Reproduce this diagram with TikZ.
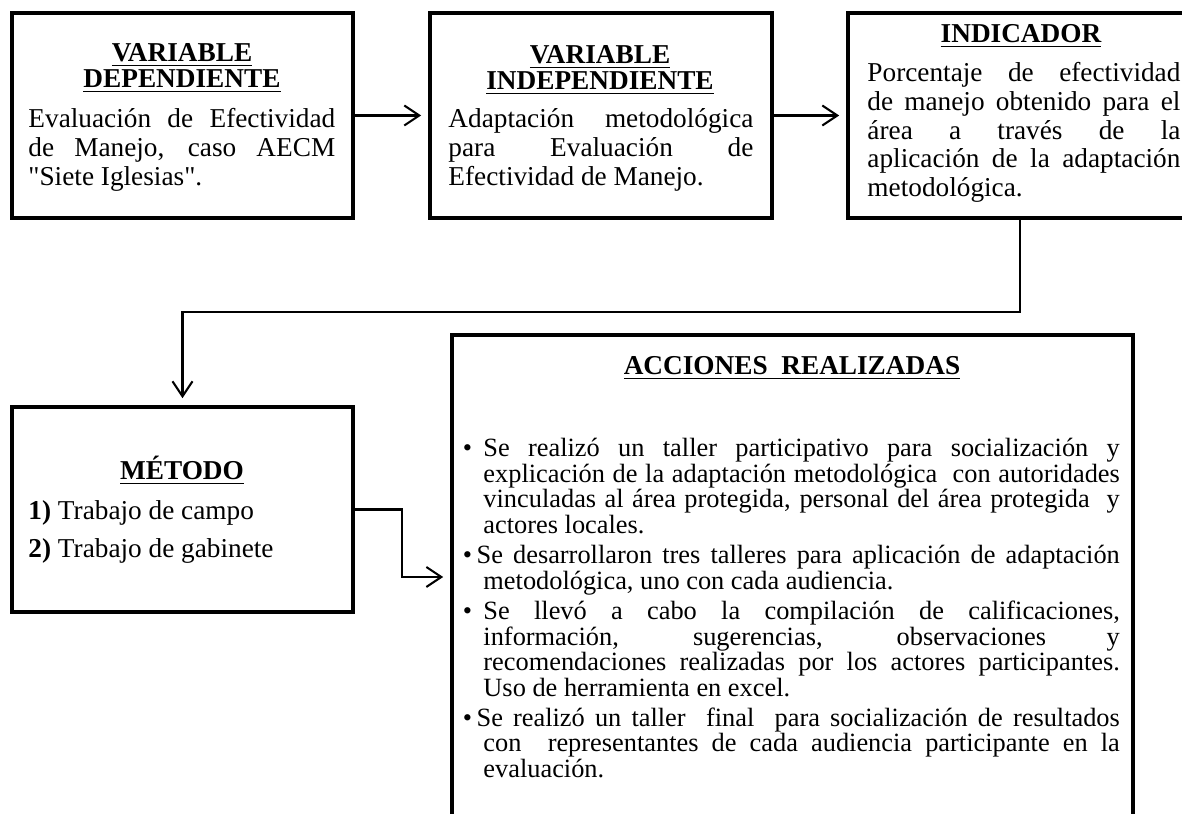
\documentclass[tikz,border=0pt]{standalone}
\usepackage{fontspec}
\setmainfont{Liberation Serif}[Ligatures=TeXOff]
\usetikzlibrary{positioning}
\usetikzlibrary{arrows.meta}
\tikzset{
    caja/.style = {rectangle, draw=black, line width=1.8pt, inner sep=0pt},
    titulo/.style = {align=center, inner sep=0pt, font=\fontsize{12}{11.5}\selectfont\bfseries},
    cuerpo/.style = {align=justify, inner sep=0pt, font=\fontsize{12}{12.6}\selectfont},
    lista/.style = {align=justify, inner sep=0pt, text width=280pt, font=\fontsize{11.6}{11.2}\selectfont},
    flecha/.style = {-{Straight Barb[length=6.6pt,width=8.8pt]}, line width=0.9pt, shorten >=3pt},
}
% vinetas de la lista
\newcommand{\vineta}{\leavevmode\llap{\textbullet\hspace{5pt}}}
\newcommand{\vinetab}{\leavevmode\hspace*{-3pt}\llap{\textbullet\hspace{2pt}}}

\begin{document}
\begin{tikzpicture}[x=0.44pt, y=-0.44pt]
  \useasboundingbox (0,0) rectangle (1182,814);
  % cajas
  \node[caja, minimum width=150pt, minimum height=90.2pt] (dep) at (182.5,115.5) {};
  \node[caja, minimum width=150.5pt, minimum height=90.2pt] (indep) at (601,115.5) {};
  \node[caja, minimum width=148.7pt, minimum height=90.2pt] (ind) at (1017,115.5) {};
  \node[caja, minimum width=150pt, minimum height=90.2pt] (met) at (182.5,509.5) {};
  \node[caja, minimum width=299.6pt, minimum height=222.2pt] (acc) at (792.5,587.5) {};
  % textos
  \node[titulo, anchor=base] (tdep) at (182,88) {\underline{VARIABLE}\\\underline{DEPENDIENTE}};
  \node[cuerpo, text width=135pt, anchor=base west] (cdep) at (28,128)
    {Evaluación de Efectividad\linebreak de Manejo, caso AECM\linebreak "Siete Iglesias".};
  \node[titulo, anchor=base] (tindep) at (600,90) {\underline{VARIABLE}\\\underline{INDEPENDIENTE}};
  \node[cuerpo, text width=134.2pt, anchor=base west] (cindep) at (448,128)
    {Adaptación\ \ metodológica\linebreak para Evaluación de\linebreak Efectividad de Manejo.};
  \node[titulo, anchor=base] (tind) at (1021,43) {\underline{INDICADOR}};
  \node[cuerpo, text width=137.7pt, anchor=base west] (cind) at (867,82)
    {Porcentaje de efectividad\linebreak de manejo obtenido para el\linebreak área a través de la\linebreak aplicación de la adaptación\linebreak metodológica.};
  \node[titulo, anchor=base] (tmet) at (182,480) {\underline{MÉTODO}};
  \node[cuerpo, anchor=base west] (m1) at (28,520) {\textbf{1)} Trabajo de campo};
  \node[cuerpo, anchor=base west] (m2) at (28,558) {\textbf{2)} Trabajo de gabinete};
  \node[titulo, anchor=base] (tacc) at (792,375) {\underline{ACCIONES\ \ REALIZADAS}};
  \node[lista, anchor=base west] (cacc) at (483,457) {\setlength{\parskip}{2.2pt}%
    \vineta Se realizó un taller participativo para socialización y\linebreak explicación de la adaptación metodológica\ \ con autoridades\linebreak vinculadas al área protegida, personal del área protegida\ \ y\linebreak actores locales.\par
    \vinetab Se desarrollaron tres talleres para aplicación de adaptación\linebreak metodológica, uno con cada audiencia.\par
    \vineta Se llevó a cabo la compilación de calificaciones,\linebreak información, sugerencias, observaciones y\linebreak recomendaciones realizadas por los actores participantes.\linebreak Uso de herramienta en excel.\par
    \vinetab Se realizó un taller\ \ final\ \ para socialización de resultados\linebreak con\ \ representantes de cada audiencia participante en la\linebreak evaluación.};
  % conectores
  \coordinate (c1) at (1020,312);
  \coordinate (c2) at (402,577);
  \draw[flecha] (dep.east) -- (indep.west);
  \draw[flecha] (indep.east) -- (ind.west);
  \draw[flecha] (ind.south -| c1) -- (c1) -- (c1 -| met.north) -- (met.north);
  \draw[flecha] (met.east) -| (c2) -- (c2 -| acc.west);
\end{tikzpicture}
\end{document}
